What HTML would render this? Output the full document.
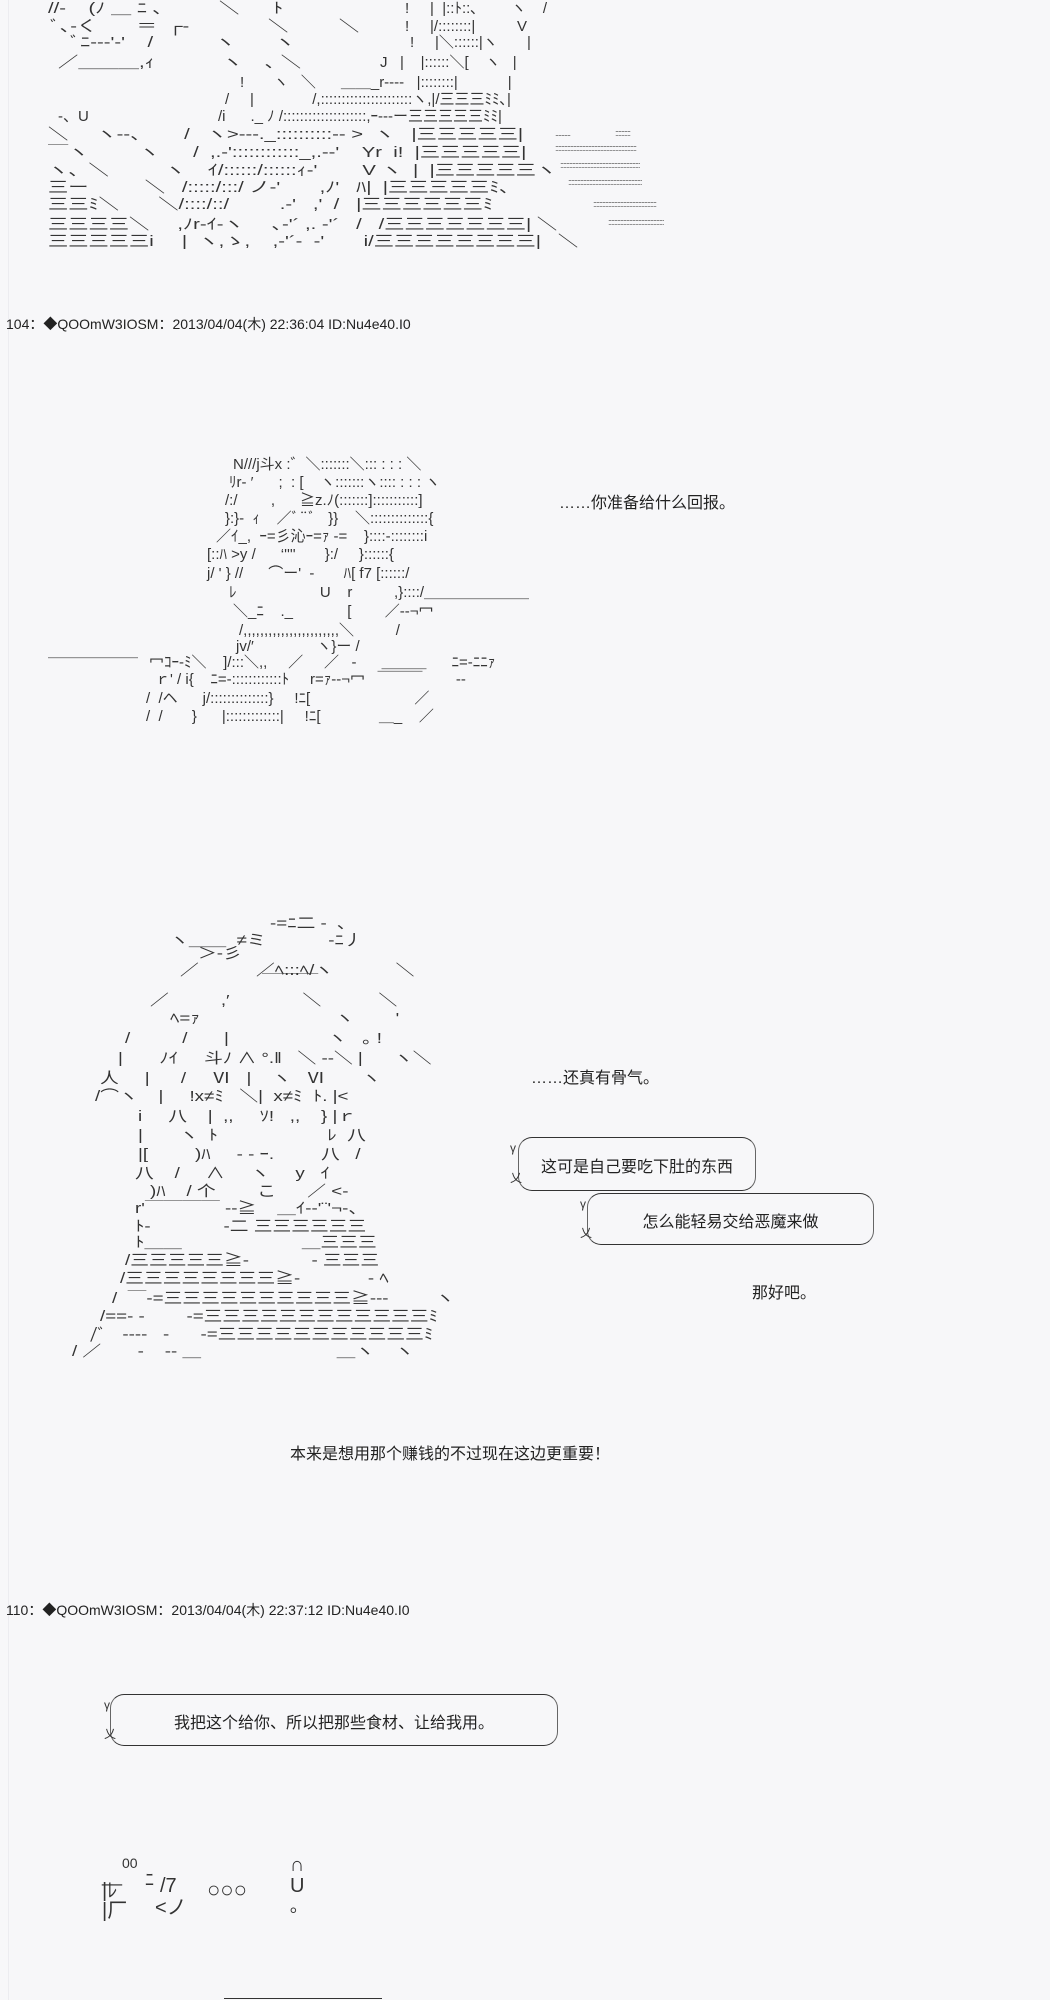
<!DOCTYPE html>
<html><head><meta charset="utf-8">
<style>
html,body{margin:0;padding:0;}
body{width:1050px;height:2000px;background:#f7f7f9;position:relative;overflow:hidden;font-family:"Liberation Sans","Noto Sans CJK SC",sans-serif;color:#222;}
.l{position:absolute;white-space:pre;font-size:15px;line-height:17px;color:#333;}
.s{transform:scaleX(1.35);transform-origin:0 0;}
.s3{transform:scaleX(1.25);transform-origin:0 0;}
.d{position:absolute;white-space:pre;font-size:9px;line-height:10px;color:#555;letter-spacing:-1px;}
.h{position:absolute;white-space:pre;font-size:14px;color:#222;}
.t{position:absolute;white-space:pre;font-size:16px;color:#222;font-family:"Liberation Sans","Noto Sans CJK SC",sans-serif;}
.b{position:absolute;border-top:1.5px solid #333;border-bottom:1.5px solid #333;border-left:1px solid #666;border-right:1px solid #666;border-radius:14px;}
.b span{position:absolute;left:0;right:0;text-align:center;font-size:16px;}
.edge{position:absolute;left:8px;top:0;width:1px;height:2000px;background:#ececf0;}
</style></head><body>
<div class="edge"></div>

<!-- Block 1 -->
<div class="l s" style="left:48px;top:0">//‐    (ﾉ ＿ ﾆ ､          ＼      ﾄ</div>
<div class="l" style="left:405px;top:0">!     |  |::ﾄ::､        ヽ    /</div>
<div class="l s" style="left:50px;top:18px">ﾞ､-く       ＝  ┌‐              ＼         ＼</div>
<div class="l" style="left:405px;top:18px">!     |/::::::::|          V</div>
<div class="l s" style="left:70px;top:34px">ﾞﾆ--‐'‐'    /           ヽ       ヽ</div>
<div class="l" style="left:410px;top:34px">!     |＼::::::|ヽ       |</div>
<div class="l s" style="left:58px;top:54px">／＿＿＿,ｨ            ヽ    ､ ＼</div>
<div class="l" style="left:380px;top:54px">J   |    |::::::＼[    ヽ   |</div>
<div class="l" style="left:240px;top:74px">!       ヽ   ＼      ＿＿_r‐‐‐‐   |::::::::|            |</div>
<div class="l" style="left:225px;top:91px">/     |              /,::::::::::::::::::::::ヽ,|/三三三ﾐﾐ､|</div>
<div class="l" style="left:58px;top:108px">-、U</div>
<div class="l" style="left:218px;top:108px">/i      ._ ﾉ /::::::::::::::::::::,ｰ-‐‐ー三三三三三ﾐﾐ|</div>
<div class="l s" style="left:48px;top:126px">＼     ヽ‐‐、      /   ヽ>‐‐‐._::::::::::-‐ >  ヽ   |三三三三三|</div>
<div class="l s" style="left:48px;top:144px">￣ヽ         ヽ      /  ,.-'::::::::::::_,.-‐'    Yr  i!  |三三三三三|</div>
<div class="l s" style="left:48px;top:162px">ヽ、＼          ヽ    ｲ/::::::/::::::ｨ‐'        V ヽ  |  |三三三三三ヽ</div>
<div class="l s" style="left:48px;top:179px">三ー          ＼   /:::::/:::/ ノ‐'       ,ﾉ'   ﾊ|  |三三三三三ﾐ､</div>
<div class="l s" style="left:48px;top:196px">三三ﾐ＼       ＼/::::/::/         .-'   ,'  /   |三三三三三三ﾐ</div>
<div class="l s" style="left:48px;top:216px">三三三三＼     ,ﾉr-ｲ-ヽ     ､-'´ ,. -'´   /   /三三三三三三三| ＼</div>
<div class="l s" style="left:48px;top:233px">三三三三三i     |  ヽ,ゝ,    ,-'´-  ‐'       i/三三三三三三三三|   ＼</div>
<div class="d" style="left:555px;top:128px">..........                              ::::::::::</div>
<div class="d" style="left:555px;top:143px">::::::::::::::::::::::::::::::::::::::::::::::::::::::</div>
<div class="d" style="left:560px;top:160px">:::::::::::::::::::::::::::::::::::::::::::::::::::::</div>
<div class="d" style="left:568px;top:177px">:::::::::::::::::::::::::::::::::::::::::::::::::</div>
<div class="d" style="left:593px;top:199px">::::::::::::::::::::::::::::::::::::::::::</div>
<div class="d" style="left:608px;top:217px">:::::::::::::::::::::::::::::::::::::</div>

<div class="h" style="left:6px;top:314px">104：◆QOOmW3IOSM：2013/04/04(木) 22:36:04 ID:Nu4e40.I0</div>

<!-- Block 2 -->
<div class="l" style="left:233px;top:456px">N///j斗x :゛＼:::::::＼::: : : : ＼</div>
<div class="l" style="left:229px;top:474px">ﾘr‐ ′      ;  : [    ヽ:::::::ヽ:::: : : : ヽ</div>
<div class="l" style="left:225px;top:492px">/:/        ,      ≧z.ﾉ(:::::::]:::::::::::]</div>
<div class="l" style="left:225px;top:510px">}:}-  ｨ    ／ﾞ¨ﾞ   }}    ＼::::::::::::::{</div>
<div class="l" style="left:216px;top:528px">／ｲ_,  ｰ=彡沁ｰ=ｧ ‐=    }::::‐::::::::i</div>
<div class="l" style="left:207px;top:546px">[::ﾊ >y /      ‘''''       }:/     }::::::{</div>
<div class="l" style="left:207px;top:565px">j/ ' } //      ⌒ー'  ‐       ﾊ[ f7 [::::::/</div>
<div class="l" style="left:229px;top:584px">ﾚ                    U    r          ,}::::/＿＿＿＿＿＿＿</div>
<div class="l" style="left:233px;top:603px">＼_ﾆ    ._             [        ／‐‐¬冖</div>
<div class="l" style="left:239px;top:622px">/,,,,,,,,,,,,,,,,,,,,,,,＼          /</div>
<div class="l" style="left:236px;top:638px">jv/′               ヽ}ー /</div>
<div class="l" style="left:48px;top:643px">＿＿＿＿＿＿</div>
<div class="l" style="left:149px;top:654px">冖ｺｰ-ﾐ＼    ]/:::＼,,     ／     ／   ‐      ＿＿＿      ﾆ=‐ﾆﾆｧ</div>
<div class="l" style="left:155px;top:671px">ｒ' / i{    ﾆ=-::::::::::::ﾄ     r=ｧ‐‐¬冖   ￣￣￣        ‐‐</div>
<div class="l" style="left:146px;top:690px">/  /ヘ      j/::::::::::::::}     !ﾆ[                         ／</div>
<div class="l" style="left:146px;top:708px">/  /       }      |:::::::::::::|     !ﾆ[              ＿_    ／</div>
<div class="t" style="left:559px;top:489px">……你准备给什么回报。</div>

<!-- Block 3 -->
<div class="l s3" style="left:270px;top:915px">‐=ﾆ二 ‐  ､</div>
<div class="l s3" style="left:170px;top:932px">ヽ＿＿  ≠ミ            ‐ﾆ丿</div>
<div class="l s3" style="left:198px;top:945px">＞‐彡</div>
<div class="l s3" style="left:180px;top:962px">／           ／ﾍ:::ﾍ/ヽ            ＼</div>
<div class="l s3" style="left:262px;top:973px">￣￣￣</div>
<div class="l s3" style="left:150px;top:992px">／          ,′              ＼           ＼</div>
<div class="l s3" style="left:170px;top:1010px">ﾍ=ｧ                          ヽ        '</div>
<div class="l s3" style="left:125px;top:1030px">/          /       |                   ヽ   ｡ !</div>
<div class="l s3" style="left:118px;top:1050px">|       ﾉｲ     斗ﾉ ∧ °.‖   ＼ ‐-＼ |      ヽ＼</div>
<div class="l s3" style="left:100px;top:1070px">人     |      /     Ⅵ   |    ヽ   Ⅵ       ヽ</div>
<div class="l s3" style="left:95px;top:1088px">/⌒ヽ    |     !x≠ﾐ   ＼|  x≠ﾐ  ﾄ. |&lt;</div>
<div class="l s3" style="left:138px;top:1108px">i     八    |  ,,     ｿ!   ,,    } |ｒ</div>
<div class="l s3" style="left:138px;top:1127px">|       ヽ  ﾄ                     ﾚ  八</div>
<div class="l s3" style="left:138px;top:1146px">|[         )ﾊ     ‐ - ｰ.         八   /</div>
<div class="l s3" style="left:135px;top:1165px">八    /     ∧     ヽ     y   ｲ</div>
<div class="l s3" style="left:150px;top:1183px">)ﾊ    / 个        こ      ／ &lt;‐</div>
<div class="l s3" style="left:135px;top:1200px">r'￣￣￣￣ ‐‐≧    ＿ｲ‐‐'¨'¬‐、</div>
<div class="l s3" style="left:135px;top:1218px">ﾄ‐              ‐二 三三三三三三</div>
<div class="l s3" style="left:135px;top:1234px">ﾄ＿＿                       ＿三三三</div>
<div class="l s3" style="left:125px;top:1252px">/三三三三三≧‐            ‐ 三三三</div>
<div class="l s3" style="left:120px;top:1270px">/三三三三三三三三≧‐             ‐ ﾍ</div>
<div class="l s3" style="left:112px;top:1290px">/  ￣‐=三三三三三三三三三三≧‐‐‐         ヽ</div>
<div class="l s3" style="left:100px;top:1308px">/==‐ ‐        ‐=三三三三三三三三三三三三ﾐ</div>
<div class="l s3" style="left:90px;top:1326px">/ﾞ   ‐‐‐‐   ‐      ‐=三三三三三三三三三三三ﾐ</div>
<div class="l s3" style="left:72px;top:1343px">/ ／       ‐    ‐‐ ＿                          ＿ヽ    ヽ</div>
<div class="t" style="left:531px;top:1064px">……还真有骨气。</div>
<div class="b" style="left:518px;top:1137px;width:236px;height:52px;"><span style="top:15px">这可是自己要吃下肚的东西</span></div>
<div class="l" style="left:510px;top:1140px;font-size:12px">γ</div>
<div class="l" style="left:510px;top:1170px;font-size:12px">乂</div>
<div class="b" style="left:587px;top:1193px;width:285px;height:50px;"><span style="top:14px">怎么能轻易交给恶魔来做</span></div>
<div class="l" style="left:580px;top:1196px;font-size:12px">γ</div>
<div class="l" style="left:580px;top:1225px;font-size:12px">乂</div>
<div class="t" style="left:752px;top:1279px">那好吧。</div>
<div class="t" style="left:290px;top:1440px">本来是想用那个赚钱的不过现在这边更重要！</div>

<div class="h" style="left:6px;top:1600px">110：◆QOOmW3IOSM：2013/04/04(木) 22:37:12 ID:Nu4e40.I0</div>

<div class="b" style="left:110px;top:1694px;width:446px;height:50px;"><span style="top:14px">我把这个给你、所以把那些食材、让给我用。</span></div>
<div class="l" style="left:104px;top:1697px;font-size:12px">γ</div>
<div class="l" style="left:104px;top:1726px;font-size:12px">乂</div>

<!-- bottom AA -->
<div class="l" style="left:122px;top:1855px;font-size:14px">00</div>
<div class="l" style="left:102px;top:1866px;font-size:18px;line-height:20px">__</div>
<div class="l" style="left:102px;top:1880px;font-size:20px;line-height:22px">|ﾚ</div>
<div class="l" style="left:102px;top:1900px;font-size:20px;line-height:22px">|厂</div>
<div class="l" style="left:145px;top:1872px;font-size:18px">ﾆ</div>
<div class="l" style="left:160px;top:1878px;font-size:20px">/7</div>
<div class="l" style="left:155px;top:1900px;font-size:20px">&lt;ノ</div>
<div class="l" style="left:207px;top:1878px;font-size:22px;line-height:24px">○○○</div>
<div class="l" style="left:290px;top:1855px;font-size:20px;line-height:20px">∩</div>
<div class="l" style="left:290px;top:1876px;font-size:20px;line-height:20px">U</div>
<div class="l" style="left:290px;top:1898px;font-size:18px">｡</div>
<div style="position:absolute;left:224px;top:1998px;width:158px;height:1px;background:#333"></div>
</body></html>
